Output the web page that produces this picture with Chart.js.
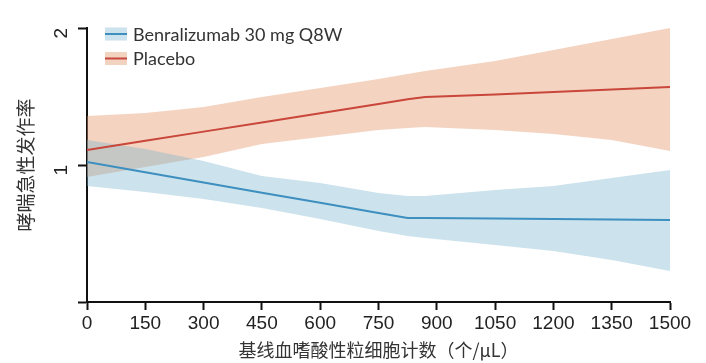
<!DOCTYPE html>
<html><head><meta charset="utf-8">
<script src="https://cdn.jsdelivr.net/npm/chart.js@4.4.0/dist/chart.umd.min.js"></script>
<style>html,body{margin:0;padding:0;background:#fff}#wrap{width:706px;height:363px}</style>
</head><body><div id="wrap"><canvas id="c" width="706" height="363"></canvas></div>
<script>
// baseline blood eosinophil count (cells/µL)
const eosCounts = [0, 150, 300, 450, 600, 750, 825, 870, 1050, 1200, 1350, 1500];
// Benralizumab 30 mg Q8W – exacerbation rate and 95% CI
const benraRate  = [1.015, 0.964, 0.915, 0.869, 0.826, 0.784, 0.765, 0.765, 0.763, 0.761, 0.759, 0.757];
const benraUpper = [1.135, 1.084, 1.020, 0.946, 0.913, 0.868, 0.855, 0.855, 0.881, 0.899, 0.936, 0.975];
const benraLower = [0.899, 0.872, 0.842, 0.804, 0.761, 0.716, 0.698, 0.691, 0.667, 0.647, 0.618, 0.585];
// Placebo – exacerbation rate and 95% CI
const placeboRate  = [1.079, 1.130, 1.184, 1.240, 1.300, 1.361, 1.394, 1.411, 1.429, 1.447, 1.465, 1.484];
const placeboUpper = [1.281, 1.301, 1.341, 1.411, 1.476, 1.545, 1.585, 1.609, 1.692, 1.789, 1.892, 2.0];
const placeboLower = [0.941, 0.990, 1.041, 1.112, 1.152, 1.194, 1.206, 1.212, 1.194, 1.170, 1.135, 1.073];
// axis ticks
const xTicks = [0, 150, 300, 450, 600, 750, 900, 1050, 1200, 1350, 1500];
const xTickLabels = ['0', '150', '300', '450', '600', '750', '900', '1050', '1200', '1350', '1500'];
const yTicks = [0.5, 1, 2];
const yTickLabels = ['', '1', '2'];
const seriesNames = ['Benralizumab 30 mg Q8W', 'Placebo'];
const yTitle = '哮喘急性发作率';
const xTitle = '基线血嗜酸性粒细胞计数（个/μL）';

const BLUE_LINE = '#3d8fc0', RED_LINE = '#c9463a';
const BLUE_BAND = 'rgba(120,178,205,0.38)', RED_BAND = 'rgba(228,150,108,0.42)';
const BLUE_BAND_SOLID = '#cce2ec', RED_BAND_SOLID = '#f2d3c0';

const pts = arr => arr.map((v, i) => ({x: eosCounts[i], y: v}));

const legendPlugin = {
  id: 'bandLegend',
  afterDraw(chart) {
    const ctx = chart.ctx, a = chart.chartArea;
    const items = [
      {label: seriesNames[0], band: BLUE_BAND_SOLID, line: BLUE_LINE},
      {label: seriesNames[1], band: RED_BAND_SOLID, line: RED_LINE}
    ];
    ctx.save();
    items.forEach((it, i) => {
      const x = a.left + 18, y = a.top + 6 + i * 24.5;
      ctx.fillStyle = it.band;
      ctx.fillRect(x, y - 6.5, 22, 13);
      ctx.strokeStyle = it.line; ctx.lineWidth = 2;
      ctx.beginPath(); ctx.moveTo(x, y); ctx.lineTo(x + 22, y); ctx.stroke();
      ctx.fillStyle = '#333'; ctx.font = '18px Lato'; ctx.textBaseline = 'middle'; ctx.textAlign = 'left';
      ctx.fillText(it.label, x + 28, y + 1);
    });
    ctx.restore();
  }
};

function draw() {
  new Chart(document.getElementById('c'), {
    type: 'line',
    data: {
      datasets: [
        {label: seriesNames[0], data: pts(benraRate), borderColor: BLUE_LINE, borderWidth: 2, pointRadius: 0, fill: false, tension: 0},
        {label: seriesNames[1], data: pts(placeboRate), borderColor: RED_LINE, borderWidth: 2, pointRadius: 0, fill: false, tension: 0},
        {label: 'b_up', data: pts(benraUpper), borderWidth: 0, borderColor: 'transparent', pointRadius: 0, fill: false},
        {label: 'b_lo', data: pts(benraLower), borderWidth: 0, borderColor: 'transparent', pointRadius: 0, fill: '-1', backgroundColor: BLUE_BAND},
        {label: 'p_up', data: pts(placeboUpper), borderWidth: 0, borderColor: 'transparent', pointRadius: 0, fill: false},
        {label: 'p_lo', data: pts(placeboLower), borderWidth: 0, borderColor: 'transparent', pointRadius: 0, fill: '-1', backgroundColor: RED_BAND}
      ]
    },
    options: {
      responsive: false,
      animation: false,
      devicePixelRatio: 1,
      layout: {padding: {top: 28, right: 36, bottom: 0, left: 0}},
      plugins: {
        legend: {display: false},
        tooltip: {enabled: false},
        filler: {drawTime: 'beforeDatasetsDraw'}
      },
      scales: {
        x: {
          type: 'linear', min: 0, max: 1500,
          afterBuildTicks: s => { s.ticks = xTicks.map(v => ({value: v})); },
          afterFit: s => { s.height = 61; },
          ticks: {
            font: {family: 'Liberation Sans', size: 19}, color: '#222', padding: 2, maxRotation: 0, autoSkip: false,
            callback: (v) => { const i = xTicks.indexOf(v); return i >= 0 ? xTickLabels[i] : ''; }
          },
          grid: {drawOnChartArea: false, drawTicks: true, tickLength: 8, tickColor: '#111', tickWidth: 2},
          border: {display: true, color: '#111', width: 2},
          title: {display: true, text: xTitle, color: '#333', font: {family: 'Noto Sans CJK SC', size: 18}, padding: {top: 0, bottom: 2}}
        },
        y: {
          type: 'logarithmic', min: 0.5, max: 2,
          afterBuildTicks: s => { s.ticks = yTicks.map(v => ({value: v})); },
          afterFit: s => { s.width = 87; },
          ticks: {
            font: {family: 'Liberation Sans', size: 19}, color: '#222', padding: 16,
            minRotation: 90, maxRotation: 90, autoSkip: false,
            callback: (v) => { const i = yTicks.indexOf(v); return i >= 0 ? yTickLabels[i] : ''; }
          },
          grid: {drawOnChartArea: false, drawTicks: true, tickLength: 9, tickColor: '#111', tickWidth: 2},
          border: {display: true, color: '#111', width: 2},
          title: {display: true, text: yTitle, color: '#333', font: {family: 'Noto Sans CJK SC', size: 19}, padding: {top: 14, bottom: 0}}
        }
      }
    },
    plugins: [legendPlugin]
  });
}
Promise.all([
  document.fonts.load('18px Lato'),
  document.fonts.load('19px "Noto Sans CJK SC"'),
  document.fonts.load('18px "Liberation Sans"')
]).then(draw, draw);
</script></body></html>
